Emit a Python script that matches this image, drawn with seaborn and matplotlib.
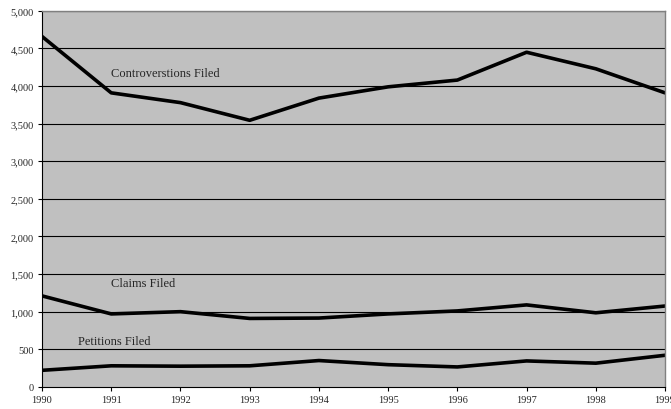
import pandas as pd
import matplotlib.pyplot as plt
import seaborn as sns

years = [1990, 1991, 1992, 1993, 1994, 1995, 1996, 1997, 1998, 1999]
controversions = [4660, 3910, 3780, 3545, 3840, 3990, 4080, 4450, 4230, 3910]
claims = [1210, 970, 1000, 910, 915, 970, 1010, 1090, 985, 1075]
petitions = [220, 280, 275, 280, 350, 295, 265, 345, 315, 420]

df = pd.DataFrame({
    "Year": years * 3,
    "Count": controversions + claims + petitions,
    "Series": ["Controverstions Filed"] * 10 + ["Claims Filed"] * 10 + ["Petitions Filed"] * 10,
})

sns.set_style("white")
plt.rcParams["font.family"] = ["Liberation Serif", "DejaVu Serif"]

fig = plt.figure(figsize=(6.71, 4.10), dpi=100)
ax = fig.add_axes([0.0626, 0.054, 0.9285, 0.917])
ax.set_facecolor("#c0c0c0")

sns.lineplot(data=df, x="Year", y="Count", units="Series", estimator=None,
             color="black", linewidth=2.6, ax=ax, legend=False)

ax.set_xlim(1990, 1999)
ax.set_ylim(0, 5000)
ax.set_xticks(years)
ax.set_yticks(range(0, 5001, 500))
ax.set_yticklabels([f"{v:,}" for v in range(0, 5001, 500)])
ax.tick_params(axis="both", labelsize=7.5, direction="out", length=3, width=0.8,
               color="black", left=True, bottom=True, pad=3)
for v in range(500, 5001, 500):
    ax.axhline(v, color="black", linewidth=0.8, zorder=1)
ax.set_xlabel("")
ax.set_ylabel("")

for side in ["top", "right"]:
    ax.spines[side].set_color("#808080")
    ax.spines[side].set_linewidth(1)
for side in ["left", "bottom"]:
    ax.spines[side].set_color("black")
    ax.spines[side].set_linewidth(0.8)

ax.text(1991.0, 4170, "Controverstions Filed", fontsize=9, va="center")
ax.text(1991.0, 1385, "Claims Filed", fontsize=9, va="center")
ax.text(1990.52, 612, "Petitions Filed", fontsize=9, va="center")

plt.savefig("out.png", dpi=100)
